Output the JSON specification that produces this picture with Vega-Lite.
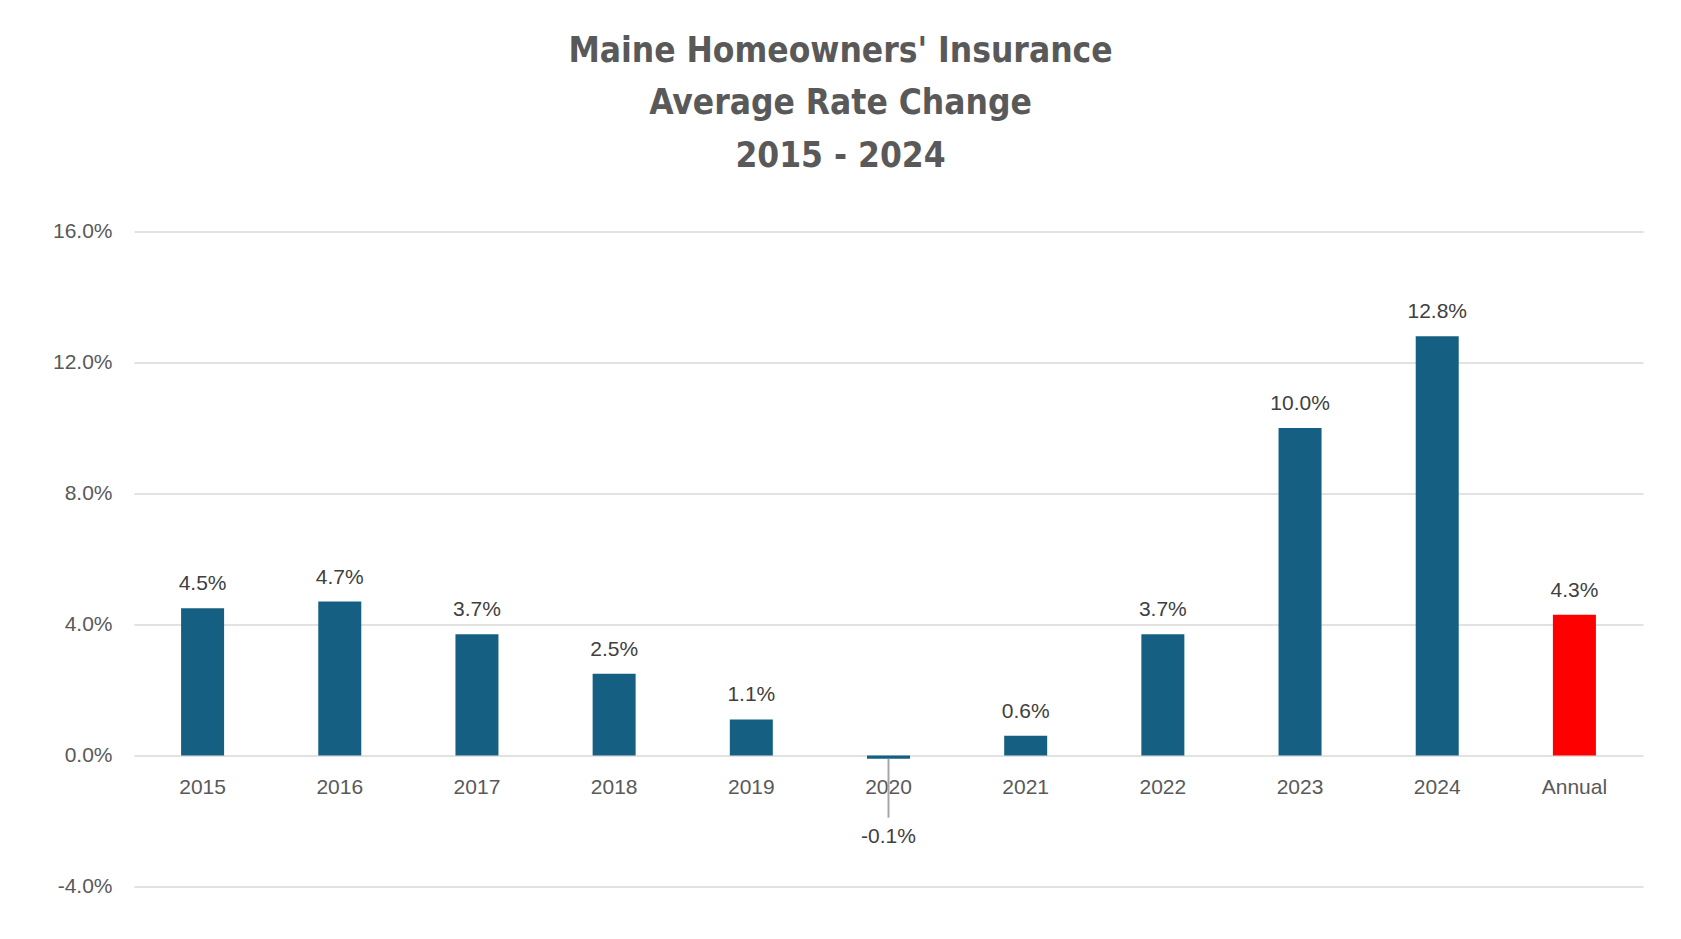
{
  "$schema": "https://vega.github.io/schema/vega-lite/v6.json",
  "width": 1509,
  "height": 655,
  "autosize": {"type": "none"},
  "padding": {"left": 134, "top": 231.5, "right": 38, "bottom": 52.5},
  "background": "white",
  "title": {
    "text": ["Maine Homeowners' Insurance", "Average Rate Change", "2015 - 2024"],
    "font": "'DejaVu Sans Condensed', Roboto",
    "fontSize": 35,
    "fontWeight": "bold",
    "color": "#595959",
    "lineHeight": 52.5,
    "anchor": "middle",
    "dx": -48,
    "offset": 47
  },
  "data": {
    "values": [
      {"year": "2015", "change": 0.045},
      {"year": "2016", "change": 0.047},
      {"year": "2017", "change": 0.037},
      {"year": "2018", "change": 0.025},
      {"year": "2019", "change": 0.011},
      {"year": "2020", "change": -0.001},
      {"year": "2021", "change": 0.006},
      {"year": "2022", "change": 0.037},
      {"year": "2023", "change": 0.100},
      {"year": "2024", "change": 0.128},
      {"year": "Annual", "change": 0.043}
    ]
  },
  "encoding": {
    "x": {
      "field": "year",
      "type": "nominal",
      "sort": null,
      "title": null,
      "scale": {"paddingInner": 0.6865, "paddingOuter": 0.34325},
      "axis": {
        "offset": -131,
        "domain": false,
        "ticks": false,
        "labelAngle": 0,
        "labelFont": "Liberation Sans",
        "labelFontSize": 21,
        "labelColor": "#595959",
        "labelPadding": 21
      }
    },
    "y": {
      "field": "change",
      "type": "quantitative",
      "title": null,
      "scale": {"domain": [-0.04, 0.16], "nice": false, "zero": false},
      "axis": {
        "values": [-0.04, 0, 0.04, 0.08, 0.12, 0.16],
        "format": ".1%",
        "domain": false,
        "ticks": false,
        "gridColor": "#D9D9D9",
        "gridWidth": 1.5,
        "labelFont": "Liberation Sans",
        "labelFontSize": 21,
        "labelColor": "#595959",
        "labelPadding": 22
      }
    }
  },
  "layer": [
    {
      "mark": {"type": "bar"},
      "encoding": {
        "color": {
          "condition": {"test": "datum.year === 'Annual'", "value": "#FF0000"},
          "value": "#156082"
        }
      }
    },
    {
      "transform": [{"filter": "datum.change >= 0"}],
      "mark": {"type": "text", "baseline": "bottom", "dy": -14, "font": "Liberation Sans", "fontSize": 21, "color": "#404040"},
      "encoding": {"text": {"field": "change", "type": "quantitative", "format": ".1%"}}
    },
    {
      "transform": [{"filter": "datum.change < 0"}],
      "mark": {"type": "rule", "color": "#A6A6A6", "strokeWidth": 2},
      "encoding": {"y2": {"datum": -0.019}}
    },
    {
      "transform": [{"filter": "datum.change < 0"}],
      "mark": {"type": "text", "baseline": "middle", "dy": 19, "font": "Liberation Sans", "fontSize": 21, "color": "#404040"},
      "encoding": {
        "y": {"datum": -0.019},
        "text": {"field": "change", "type": "quantitative", "format": ".1%"}
      }
    }
  ],
  "config": {
    "view": {"stroke": null},
    "locale": {
      "number": {"decimal": ".", "thousands": ",", "grouping": [3], "currency": ["$", ""], "minus": "-"}
    }
  }
}
